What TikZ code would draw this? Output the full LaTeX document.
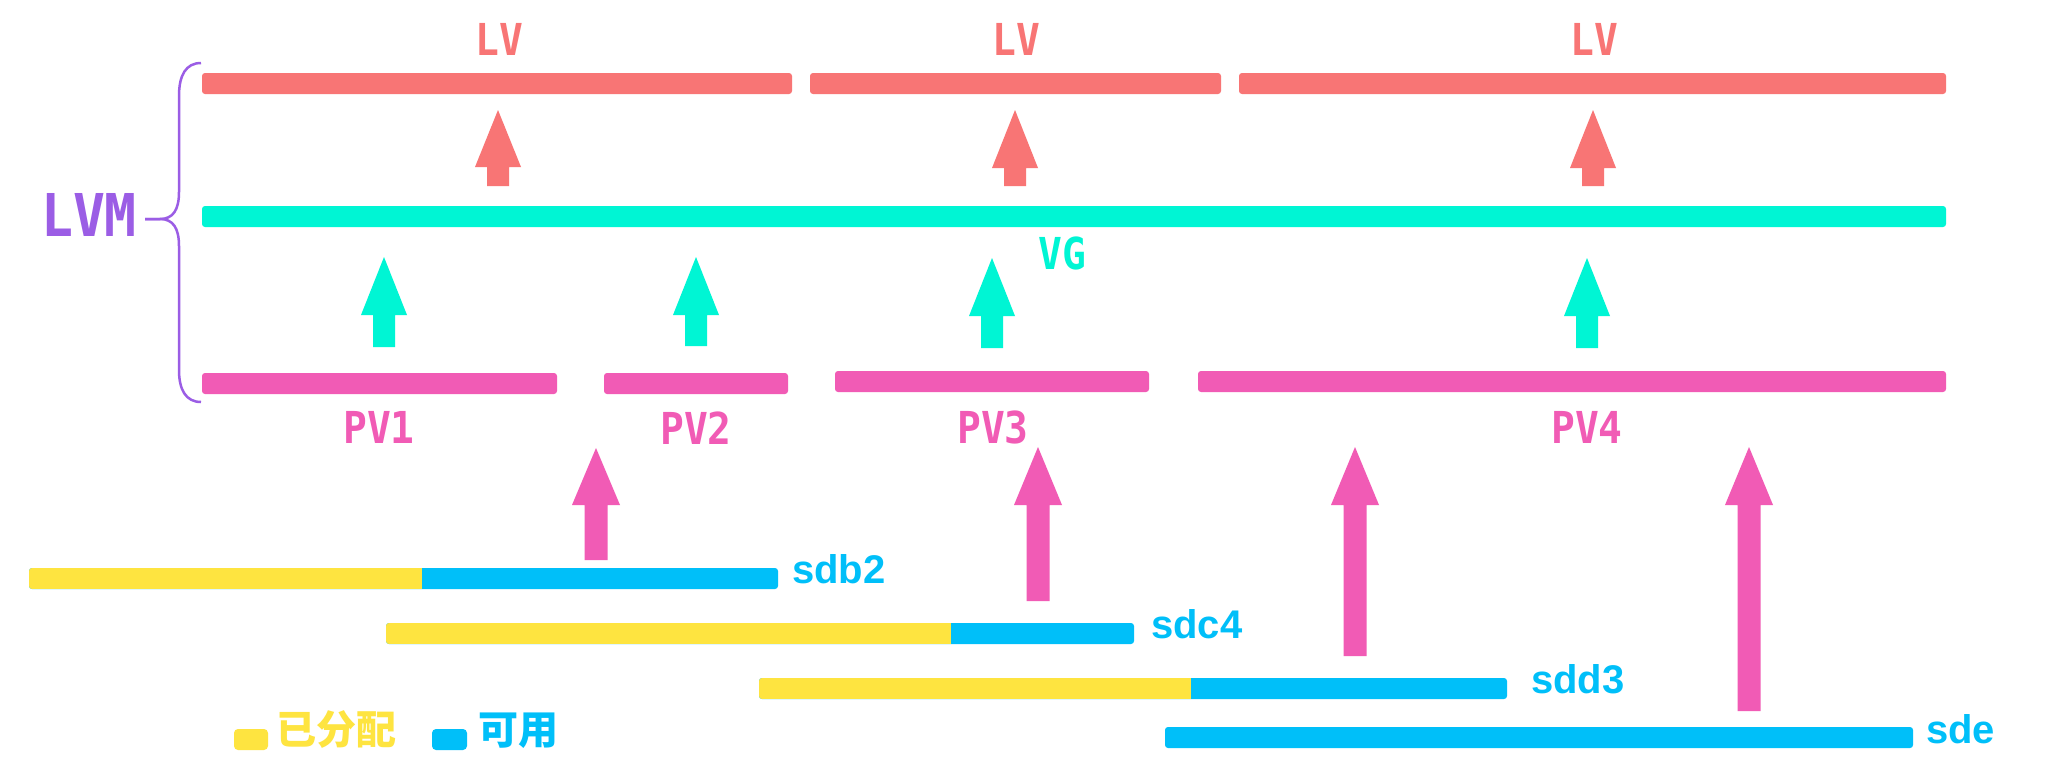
\documentclass[tikz,border=0pt]{standalone}
\usepackage{fontspec}
\setmainfont{Liberation Sans}
\newfontfamily\monof{DejaVu Sans Mono}[FakeStretch=0.9]
\newfontfamily\cjkf{Noto Sans CJK SC}
\definecolor{lvred}{HTML}{F87575}
\definecolor{vgcyan}{HTML}{00F5D4}
\definecolor{pvpink}{HTML}{F15BB5}
\definecolor{alloc}{HTML}{FEE440}
\definecolor{avail}{HTML}{00BFF9}
\definecolor{lvmpurple}{HTML}{9B5DE5}
\newcommand\blkarrow[6]{% color, x, tip, headbase, bottom, half shaft
  \fill[#1] (#2,#3) -- (#2+2*#6+1,#4) -- (#2+#6,#4) -- (#2+#6,#5) -- (#2-#6,#5) -- (#2-#6,#4) -- (#2-2*#6-1,#4) -- cycle;}
\tikzset{
  bar/.style={rectangle, rounded corners=3pt, minimum height=21pt, inner sep=0pt, outer sep=0pt},
  monolabel/.style={font=\monof\bfseries\fontsize{44}{52}\selectfont, inner sep=0pt, anchor=base},
  disklabel/.style={font=\bfseries\fontsize{40}{48}\selectfont, text=avail, inner sep=0pt, anchor=base west},
  split/.style n args={2}{bar, fill=avail, minimum width=#1, path picture={\fill[alloc, sharp corners] (path picture bounding box.south west) rectangle ([xshift=#2]path picture bounding box.north west);}},
}
\begin{document}
\begin{tikzpicture}[x=1pt, y=-1pt]
\useasboundingbox[fill=white] (0,0) rectangle (2047,779);
% LV bars
\node[bar, fill=lvred, minimum width=590pt] (lv1) at (497,83.5) {};
\node[bar, fill=lvred, minimum width=411pt] (lv2) at (1015.5,83.5) {};
\node[bar, fill=lvred, minimum width=707pt] (lv3) at (1592.5,83.5) {};
\node[monolabel, text=lvred] (lvt1) at (499,55) {LV};
\node[monolabel, text=lvred] (lvt2) at (1016,55) {LV};
\node[monolabel, text=lvred] (lvt3) at (1594,55) {LV};
% VG
\node[bar, fill=vgcyan, minimum width=1744pt] (vg) at (1074,216.5) {};
\node[monolabel, text=vgcyan] (vgt) at (1062,269) {VG};
% PV bars
\node[bar, fill=pvpink, minimum width=355pt] (pv1) at (379.5,383.5) {};
\node[bar, fill=pvpink, minimum width=184pt] (pv2) at (696,383.5) {};
\node[bar, fill=pvpink, minimum width=314pt] (pv3) at (992,381.5) {};
\node[bar, fill=pvpink, minimum width=748pt] (pv4) at (1572,381.5) {};
\node[monolabel, text=pvpink] (pvt1) at (379,443) {PV1};
\node[monolabel, text=pvpink] (pvt2) at (696,444) {PV2};
\node[monolabel, text=pvpink] (pvt3) at (993,443) {PV3};
\node[monolabel, text=pvpink] (pvt4) at (1587,443) {PV4};
% disks
\node[split={749pt}{393pt}] (sdb2) at (403.5,578.5) {};
\node[split={748pt}{565pt}] (sdc4) at (760,633.5) {};
\node[split={748pt}{432pt}] (sdd3) at (1133,688.5) {};
\node[bar, fill=avail, minimum width=748pt] (sde) at (1539,737.5) {};
\node[disklabel] (sdb2t) at (792,583) {sdb2};
\node[disklabel] (sdc4t) at (1151,638) {sdc4};
\node[disklabel] (sdd3t) at (1531,693) {sdd3};
\node[disklabel] (sdet) at (1926,743) {sde};
% arrows LV
\blkarrow{lvred}{498}{110}{167}{186}{11}
\blkarrow{lvred}{1015}{110}{168}{186}{11}
\blkarrow{lvred}{1593}{110}{168}{186}{11}
% arrows VG
\blkarrow{vgcyan}{384}{257}{315}{347}{11}
\blkarrow{vgcyan}{696}{257}{315}{346}{11}
\blkarrow{vgcyan}{992}{258}{316}{348}{11}
\blkarrow{vgcyan}{1587}{258}{316}{348}{11}
% arrows PV
\blkarrow{pvpink}{596}{448}{505}{560}{11.5}
\blkarrow{pvpink}{1038}{447}{505}{601}{11.5}
\blkarrow{pvpink}{1355}{447}{505}{656}{11.5}
\blkarrow{pvpink}{1749}{447}{505}{711}{11.5}
% LVM brace
\draw[lvmpurple, line width=2.5pt] (201,63) .. controls (186,63) and (179,75) .. (179,96) -- (179,192) .. controls (179,210) and (173,219) .. (160,219) -- (145,219);
\draw[lvmpurple, line width=2.5pt] (145,219) -- (160,219) .. controls (173,219) and (179,228) .. (179,246) -- (179,370) .. controls (179,390) and (186,402) .. (201,402);
\node[font=\monof\bfseries\fontsize{59}{66}\selectfont, text=lvmpurple, inner sep=0pt, anchor=base] (lvm) at (89,236) {LVM};
% legend
\node[rectangle, rounded corners=4pt, fill=alloc, minimum width=34pt, minimum height=21pt, inner sep=0pt] (legA) at (251,739.5) {};
\node[font=\cjkf\bfseries\fontsize{40}{48}\selectfont, text=alloc, inner sep=0pt, anchor=base west] (legAt) at (276,744) {已分配};
\node[rectangle, rounded corners=4pt, fill=avail, minimum width=35pt, minimum height=21pt, inner sep=0pt] (legB) at (449.5,739.5) {};
\node[font=\cjkf\bfseries\fontsize{40}{48}\selectfont, text=avail, inner sep=0pt, anchor=base west] (legBt) at (478,744) {可用};
\end{tikzpicture}
\end{document}
